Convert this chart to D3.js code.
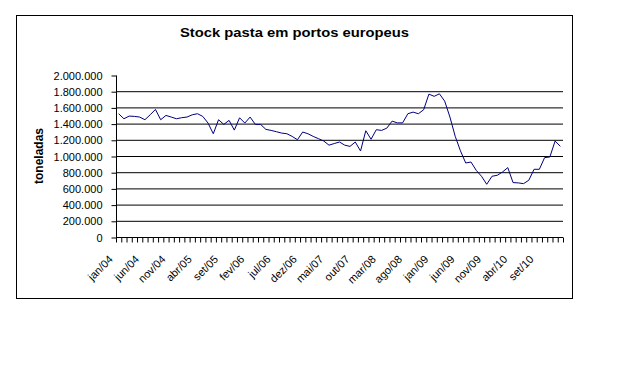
<!DOCTYPE html>
<html>
<head>
<meta charset="utf-8">
<script src="https://cdn.jsdelivr.net/npm/d3@7"></script>
<style>
  html, body { margin: 0; padding: 0; background: #ffffff; }
  svg { display: block; }
  text { font-family: "Liberation Sans", Arial, sans-serif; fill: #000; }
</style>
</head>
<body>
<svg id="chart" width="636" height="371"></svg>
<script>
// ---------- data ----------
const categories = [
  "jan/04","fev/04","mar/04","abr/04","mai/04","jun/04","jul/04","ago/04","set/04","out/04","nov/04","dez/04",
  "jan/05","fev/05","mar/05","abr/05","mai/05","jun/05","jul/05","ago/05","set/05","out/05","nov/05","dez/05",
  "jan/06","fev/06","mar/06","abr/06","mai/06","jun/06","jul/06","ago/06","set/06","out/06","nov/06","dez/06",
  "jan/07","fev/07","mar/07","abr/07","mai/07","jun/07","jul/07","ago/07","set/07","out/07","nov/07","dez/07",
  "jan/08","fev/08","mar/08","abr/08","mai/08","jun/08","jul/08","ago/08","set/08","out/08","nov/08","dez/08",
  "jan/09","fev/09","mar/09","abr/09","mai/09","jun/09","jul/09","ago/09","set/09","out/09","nov/09","dez/09",
  "jan/10","fev/10","mar/10","abr/10","mai/10","jun/10","jul/10","ago/10","set/10","out/10","nov/10","dez/10",
  "jan/11"
];
const stock = [
  1528000,1466000,1499000,1495000,1487000,1454000,1515000,1581000,1454000,1507000,1487000,1466000,
  1479000,1487000,1515000,1528000,1495000,1413000,1281000,1454000,1396000,1446000,1326000,1478000,
  1413000,1487000,1396000,1396000,1335000,1322000,1306000,1289000,1281000,1248000,1207000,1302000,
  1281000,1248000,1220000,1191000,1140000,1160000,1179000,1140000,1125000,1179000,1068000,1318000,
  1213000,1331000,1322000,1350000,1437000,1415000,1415000,1528000,1548000,1528000,1577000,1770000,
  1743000,1774000,1684000,1487000,1250000,1070000,920000,932000,829000,756000,657000,756000,
  768000,809000,863000,678000,674000,665000,707000,842000,842000,986000,994000,1191000,
  1125000
];
const xTickLabels = ["jan/04","jun/04","nov/04","abr/05","set/05","fev/06","jul/06","dez/06",
  "mai/07","out/07","mar/08","ago/08","jan/09","jun/09","nov/09","abr/10","set/10"];
const yTicks = [0,200000,400000,600000,800000,1000000,1200000,1400000,1600000,1800000,2000000];
const gridValues = [200000,400000,600000,800000,1000000,1200000,1400000,1600000,1800000];
const titleText = "Stock pasta em portos europeus";
const yLabel = "toneladas";

// ---------- drawing ----------
const svg = d3.select("#chart");
const plotLeft = 116, plotRight = 563, plotTop = 75.5, plotBottom = 237.5;

const pt = d3.formatLocale({decimal: ",", thousands: ".", grouping: [3], currency: ["", ""]});
const fmt = pt.format(",");

const x = d3.scaleBand().domain(categories).range([plotLeft, plotRight]).padding(0);
const xb = d3.scaleLinear().domain([0, categories.length]).range([plotLeft, plotRight]);
const y = d3.scaleLinear().domain([0, 2000000]).range([plotBottom, plotTop]);

// outer frame
svg.append("rect")
  .attr("x", 16.5).attr("y", 15.5)
  .attr("width", 556).attr("height", 283)
  .attr("fill", "#fff").attr("stroke", "#000").attr("stroke-width", 1);

// title
svg.append("text")
  .attr("x", 294.5).attr("y", 37)
  .attr("text-anchor", "middle")
  .attr("font-weight", "bold")
  .attr("font-size", "13px")
  .attr("textLength", 229)
  .attr("lengthAdjust", "spacingAndGlyphs")
  .text(titleText);

// y label
svg.append("text")
  .attr("transform", "translate(42.5,156) rotate(-90)")
  .attr("text-anchor", "middle")
  .attr("font-weight", "bold")
  .attr("font-size", "12px")
  .text(yLabel);

// gridlines
svg.append("g").selectAll("line").data(gridValues).join("line")
  .attr("x1", plotLeft).attr("x2", plotRight)
  .attr("y1", d => y(d)).attr("y2", d => y(d))
  .attr("stroke", "#000").attr("stroke-width", 1);

// y axis
const yAxis = svg.append("g")
  .attr("transform", `translate(${plotLeft + 0.5},0)`)
  .call(d3.axisLeft(y).tickValues(yTicks).tickSize(5).tickPadding(9).tickFormat(d => fmt(d)));
yAxis.select(".domain").attr("d", `M0,${plotTop}V${plotBottom}`).attr("stroke", "#000");
yAxis.selectAll(".tick line").attr("stroke", "#000");
yAxis.selectAll(".tick text")
  .attr("font-family", "'Liberation Sans', Arial, sans-serif")
  .attr("font-size", "11px").attr("fill", "#000");

// x axis (ticks at category boundaries)
const xAxis = svg.append("g")
  .attr("transform", `translate(0,${plotBottom})`)
  .call(d3.axisBottom(xb).tickValues(d3.range(categories.length + 1)).tickSize(5).tickFormat(""));
xAxis.select(".domain").attr("d", `M${plotLeft},0H${plotRight}`).attr("stroke", "#000");
xAxis.selectAll(".tick line").attr("stroke", "#000");

// x labels, rotated
svg.append("g").selectAll("text").data(xTickLabels).join("text")
  .attr("transform", d => `translate(${x(d) + x.bandwidth() / 2 - 5},260) rotate(-45)`)
  .attr("text-anchor", "end")
  .attr("font-size", "11px")
  .text(d => d);

// line
const line = d3.line()
  .x((d, i) => x(categories[i]) + x.bandwidth() / 2)
  .y(d => y(d));
svg.append("path")
  .datum(stock)
  .attr("d", line)
  .attr("fill", "none")
  .attr("stroke", "#000080")
  .attr("stroke-width", 1)
  .attr("stroke-linejoin", "round");
</script>
</body>
</html>
